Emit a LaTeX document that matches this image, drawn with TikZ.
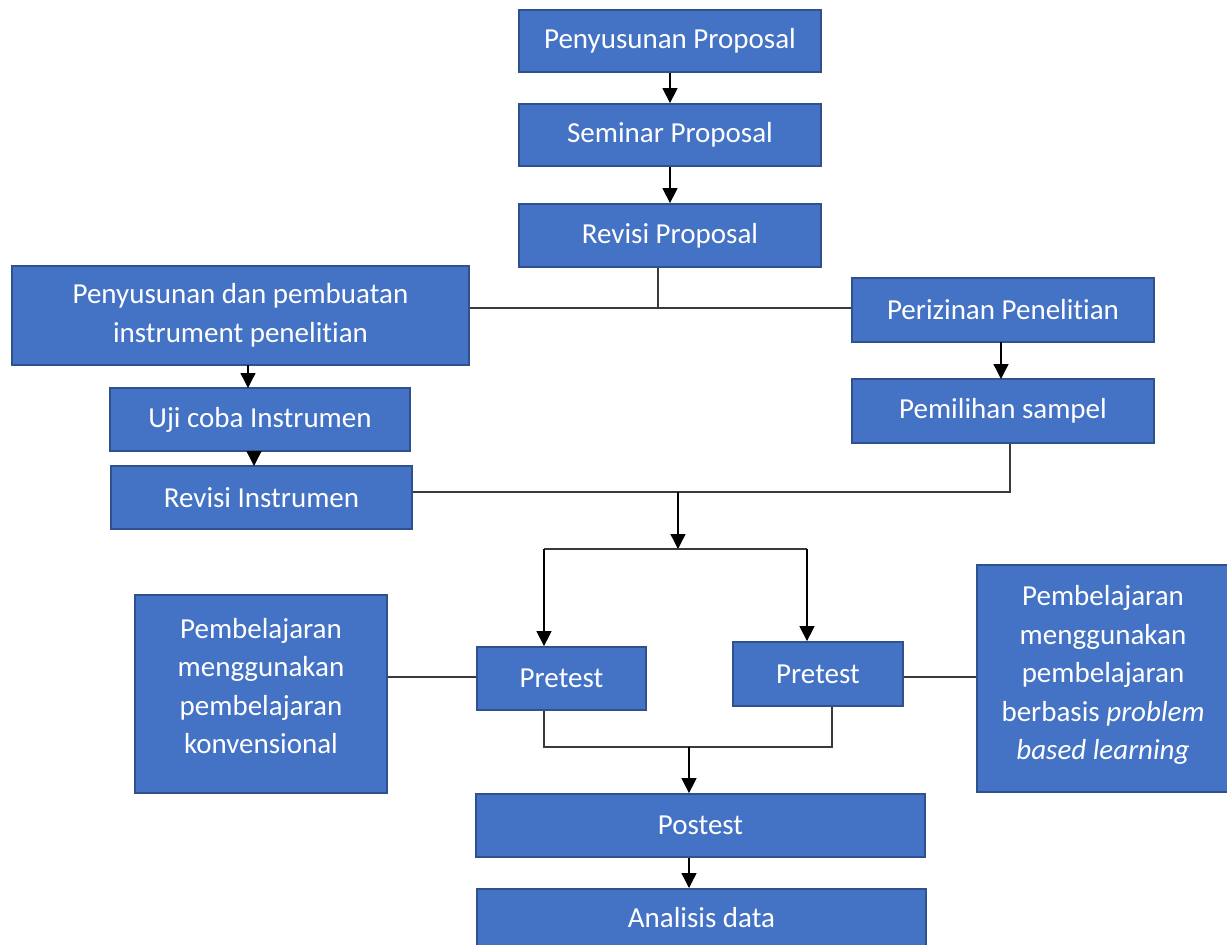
\documentclass[tikz,border=0pt]{standalone}
\usepackage{fontspec}
\setmainfont[RawFeature={-liga;-clig;-calt;-dlig}]{Carlito}
\usetikzlibrary{arrows.meta}
\definecolor{boxfill}{HTML}{4472C4}
\definecolor{boxline}{HTML}{2F528F}
\definecolor{conn}{HTML}{3A3A3A}
\tikzset{
  box/.style={draw=boxline, line width=1.8pt, fill=boxfill, text=white, align=center,
    inner sep=0pt, font=\fontsize{29}{38.5}\selectfont},
  txt/.style={text=white, align=center, inner sep=0pt, font=\fontsize{29}{38.5}\selectfont},
  wire/.style={draw=conn, line width=1.4pt},
  arr/.style={draw=black, line width=1.4pt, -{Triangle[length=15pt,width=15pt]}}
}
\begin{document}
\begin{tikzpicture}[x=1pt,y=-1pt]
\useasboundingbox (0,0) rectangle (1227,945);
% top column
\node[box, minimum width=302pt, minimum height=62pt] (pp) at (670,41) {Penyusunan Proposal};
\node[box, minimum width=302pt, minimum height=62pt] (sp) at (670,135) {Seminar Proposal};
\node[box, minimum width=302pt, minimum height=63pt] (rp) at (670,235.5) {Revisi Proposal};
% left column
\node[box, minimum width=457pt, minimum height=99pt] (pdp) at (240.5,315.5) {Penyusunan dan pembuatan\\instrument penelitian};
\node[box, minimum width=300pt, minimum height=63pt] (uci) at (260,419.5) {Uji coba Instrumen};
\node[box, minimum width=301pt, minimum height=63pt] (ri) at (261.5,497.5) {Revisi Instrumen};
% right column
\node[box, minimum width=302pt, minimum height=64pt] (pzp) at (1003,310) {Perizinan Penelitian};
\node[box, minimum width=302pt, minimum height=64pt] (ps) at (1003,411) {Pemilihan sampel};
% pretests
\node[box, minimum width=169pt, minimum height=63pt] (pre1) at (561.5,678.5) {Pretest};
\node[box, minimum width=170pt, minimum height=64pt] (pre2) at (818,674) {Pretest};
% side boxes
\node[box, minimum width=252pt, minimum height=198pt] (konv) at (261,694) {};
\node[txt] (konvt) at (261,686) {Pembelajaran\\menggunakan\\pembelajaran\\konvensional};
\node[box, minimum width=252pt, minimum height=227pt] (pbl) at (1103,678.5) {};
\node[txt] (pblt) at (1103,675) {Pembelajaran\\menggunakan\\pembelajaran\\berbasis \textit{problem}\\\textit{based learning}};
% bottom
\node[box, minimum width=449pt, minimum height=63pt] (post) at (700.5,825.5) {Postest};
\node[box, minimum width=449pt, minimum height=63pt, anchor=north] (ad) at (701.5,888) {};
\node[txt] (adt) at (701.5,918) {Analisis data};

% coordinates
\coordinate (j1) at (658,308);
\coordinate (j2) at (1010,492);
\coordinate (j3) at (678,492);
\coordinate (j4) at (678,549);
\coordinate (j5) at (544,549);
\coordinate (j6) at (807,549);
\coordinate (j7) at (544,747);
\coordinate (j8) at (832,747);
\coordinate (j9) at (689,747);

% connectors
\draw[arr] (pp.south) -- (sp.north);
\draw[arr] (sp.south) -- (rp.north);
\draw[wire] (j1 |- rp.south) -- (j1);
\draw[wire] (pdp.east |- j1) -- (pzp.west |- j1);
\draw[arr] (248,365) -- (248,388);
\draw[arr] (254,451) -- (254,466);
\draw[arr] (1001,342) -- (1001,379);
\draw[wire] (j2 |- ps.south) -- (j2) -- (ri.east |- j2);
\draw[arr] (j3) -- (j4);
\draw[wire] (j5) -- (j6);
\draw[arr] (j5) -- (j5 |- pre1.north);
\draw[arr] (j6) -- (j6 |- pre2.north);
\draw[wire] (konv.east |- 0,677) -- (pre1.west |- 0,677);
\draw[wire] (pre2.east |- 0,677) -- (pbl.west |- 0,677);
\draw[wire] (j7 |- pre1.south) -- (j7) -- (j8) -- (j8 |- pre2.south);
\draw[arr] (j9) -- (j9 |- post.north);
\draw[arr] (j9 |- post.south) -- (j9 |- ad.north);
\end{tikzpicture}
\end{document}
